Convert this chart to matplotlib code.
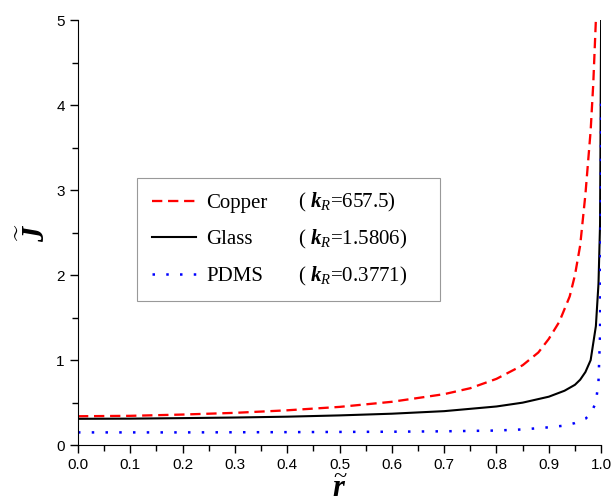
import matplotlib
matplotlib.use('Agg')
import matplotlib.pyplot as plt
from matplotlib.transforms import IdentityTransform
from matplotlib.ticker import MultipleLocator

plt.rcParams['font.family'] = 'Liberation Sans'
plt.rcParams['mathtext.fontset'] = 'custom'
plt.rcParams['mathtext.rm'] = 'Liberation Serif'
plt.rcParams['mathtext.it'] = 'Liberation Serif:italic'
plt.rcParams['mathtext.bf'] = 'Liberation Serif:bold:italic'

# values
copper_x = [0, 0.1, 0.2, 0.3, 0.4, 0.5, 0.6, 0.7, 0.75, 0.8, 0.85, 0.88, 0.9,
            0.92, 0.94, 0.95, 0.96, 0.97, 0.98, 0.985, 0.99]
copper_y = [0.34, 0.345, 0.36, 0.38, 0.41, 0.45, 0.51, 0.60, 0.67, 0.78, 0.94,
            1.09, 1.25, 1.45, 1.75, 2.0, 2.35, 2.95, 3.7, 4.25, 5.0]

glass_x = [0, 0.1, 0.2, 0.3, 0.4, 0.5, 0.6, 0.7, 0.8, 0.85, 0.9, 0.93, 0.95,
           0.96, 0.97, 0.98, 0.99, 0.995, 0.998, 1.0]
glass_y = [0.31, 0.312, 0.318, 0.325, 0.335, 0.35, 0.37, 0.40, 0.455, 0.50,
           0.57, 0.64, 0.71, 0.77, 0.86, 1.0, 1.4, 1.9, 2.6, 5.0]

pdms_x = [0, 0.2, 0.4, 0.6, 0.7, 0.8, 0.85, 0.9, 0.93, 0.95, 0.97, 0.98, 0.99,
          0.995, 0.998, 0.999, 1.0]
pdms_y = [0.15, 0.15, 0.153, 0.158, 0.163, 0.172, 0.185, 0.21, 0.23, 0.26,
          0.31, 0.37, 0.5, 0.75, 1.3, 2.2, 4.1]

names = ['Copper', 'Glass', 'PDMS']
k_values = ['657.5', '1.5806', '0.3771']

fig = plt.figure(figsize=(6.14, 5.03), dpi=100)
ax = fig.add_axes([0.127, 0.115, 0.852, 0.845])

l1, = ax.plot(copper_x, copper_y, color='red', linestyle=(0, (4.5, 2.5)), linewidth=1.65)
l2, = ax.plot(glass_x, glass_y, color='black', linestyle='-', linewidth=1.5)
l3, = ax.plot(pdms_x, pdms_y, color='blue', linestyle=(0, (1, 4.5)), linewidth=1.8)

ax.set_xlim(0, 1.0)
ax.set_ylim(0, 5)
ax.xaxis.set_major_locator(MultipleLocator(0.1))
ax.xaxis.set_minor_locator(MultipleLocator(0.05))
ax.yaxis.set_major_locator(MultipleLocator(1))
ax.yaxis.set_minor_locator(MultipleLocator(0.5))
ax.xaxis.set_major_formatter(plt.FormatStrFormatter('%.1f'))
ax.tick_params(which='major', direction='out', length=6, width=1, labelsize=11)
ax.tick_params(which='minor', direction='out', length=4, width=1)
ax.spines['top'].set_visible(False)
ax.spines['right'].set_visible(False)

ax.set_xlabel(r'$\widetilde{\mathbf{r}}$', fontsize=22, labelpad=1)
ax.set_ylabel(r'$\widetilde{\mathbf{J}}$', fontsize=22, labelpad=3)

# legend box with the names; the k_R part is added as a second column of text
leg = ax.legend([l1, l2, l3], names, loc='upper left', mode='expand',
                bbox_to_anchor=(0.113, 0.528, 0.579, 0.1), borderaxespad=0,
                prop={'family': 'Liberation Serif', 'size': 15},
                frameon=True, fancybox=False, edgecolor='gray',
                handlelength=2.1, handletextpad=0.5,
                labelspacing=0.82, borderpad=0.72)
leg.get_frame().set_linewidth(0.8)

fig.canvas.draw()
x_paren = ax.transAxes.transform((0.4207, 0))[0]
for t, k in zip(leg.get_texts(), k_values):
    y_base = t.get_transform().transform(t.get_position())[1]
    fig.text(x_paren, y_base, '( $\\mathbf{k}_{R}$=%s)' % k, transform=IdentityTransform(),
             family='Liberation Serif', fontsize=15, va='baseline', ha='left', zorder=10)

fig.savefig('out.png', dpi=100)
